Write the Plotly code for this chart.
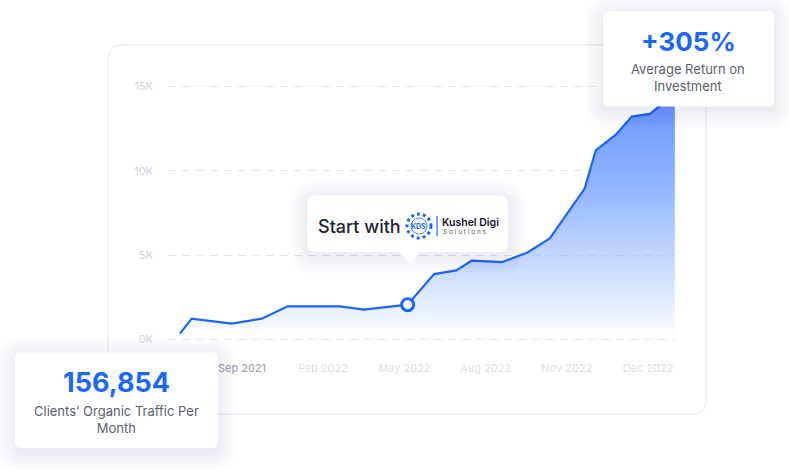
import plotly.graph_objects as go

W, H = 789, 470

# ---- data ----
x_pos = [-0.764, -0.62, -0.127, 0.243, 0.563, 1.207, 1.502, 2.04, 2.365, 2.64, 2.83,
         3.20, 3.51, 3.79, 4.22, 4.356, 4.614, 4.80, 5.025, 5.148, 5.33]
traffic = [350, 1240, 945, 1240, 1970, 1970, 1770, 2070, 3880, 4100, 4680,
           4590, 5150, 6000, 8950, 11220, 12200, 13220, 13380, 13870, 14600]
x_tick_vals = [0, 1, 2, 3, 4, 5]
x_tick_labels = ["Sep 2021", "Feb 2022", "May 2022", "Aug 2022", "Nov 2022", "Dec 2022"]
y_tick_vals = [0, 5000, 10000, 15000]
y_tick_labels = ["0K", "5K", "10K", "15K"]
start_idx = 7
roi_value = "+305%"
roi_label = "Average Return on<br>Investment"
traffic_value = "156,854"
traffic_label = "Clients’ Organic Traffic Per<br>Month"

BLUE = "#1a66ff"
FONT = "Inter"


def px(x):
    return x / W


def py(y):
    return 1 - y / H


def rr(x0, y0, x1, y1, r):
    pts = [
        ("M", [(x0 + r, y0)]), ("L", [(x1 - r, y0)]), ("Q", [(x1, y0), (x1, y0 + r)]),
        ("L", [(x1, y1 - r)]), ("Q", [(x1, y1), (x1 - r, y1)]), ("L", [(x0 + r, y1)]),
        ("Q", [(x0, y1), (x0, y1 - r)]), ("L", [(x0, y0 + r)]), ("Q", [(x0, y0), (x0 + r, y0)]),
    ]
    s = ""
    for cmd, pp in pts:
        s += cmd + " " + " ".join(f"{px(a):.5f},{py(b):.5f}" for a, b in pp) + " "
    return s + "Z"


shapes = []


def card(x0, y0, x1, y1, r, layer="above", shadow=True, line=None):
    if shadow:
        for i in range(1, 10):
            e = 2 * i
            shapes.append(dict(type="path", xref="paper", yref="paper", layer=layer,
                               path=rr(x0 - e, y0 - e + 4, x1 + e, y1 + e + 4, r + e),
                               fillcolor="rgba(60,60,90,0.008)", line=dict(width=0)))
    shapes.append(dict(type="path", xref="paper", yref="paper", layer=layer,
                       path=rr(x0, y0, x1, y1, r), fillcolor="white",
                       line=dict(width=1 if line else 0, color=line or "white")))


# main chart card
card(108, 44, 706, 415, 14, layer="below", shadow=False, line="#e6e6ef")

fig = go.Figure()
fig.add_trace(go.Scatter(
    x=x_pos, y=traffic, mode="lines", line=dict(color=BLUE, width=2.2),
    fill="tozeroy",
    fillgradient=dict(type="vertical",
                      colorscale=[[0.0, "rgba(255,255,255,0)"],
                                  [0.06, "rgba(170,200,255,0.15)"],
                                  [0.25, "rgba(150,185,255,0.45)"],
                                  [0.6, "rgba(120,165,255,0.80)"],
                                  [1.0, "rgba(100,150,255,1)"]]),
    hoverinfo="skip", showlegend=False))
fig.add_trace(go.Scatter(
    x=[x_pos[start_idx]], y=[traffic[start_idx]], mode="markers",
    marker=dict(size=12, color="white", line=dict(color=BLUE, width=3)),
    hoverinfo="skip", showlegend=False))

# tooltip "Start with"
card(307, 195, 508, 252, 8)
shapes.append(dict(type="path", xref="paper", yref="paper", layer="above",
                   path=f"M {px(399):.5f},{py(251):.5f} L {px(421):.5f},{py(251):.5f} "
                        f"L {px(410):.5f},{py(264):.5f} Z",
                   fillcolor="white", line=dict(width=0)))
# logo
shapes.append(dict(type="circle", xref="paper", yref="paper", layer="above",
                   x0=px(407), x1=px(431), y0=py(238), y1=py(214),
                   line=dict(color=BLUE, width=3, dash="dot")))
shapes.append(dict(type="circle", xref="paper", yref="paper", layer="above",
                   x0=px(411), x1=px(427), y0=py(234), y1=py(218),
                   line=dict(color=BLUE, width=0.8)))
shapes.append(dict(type="line", xref="paper", yref="paper", layer="above",
                   x0=px(437), x1=px(437), y0=py(216), y1=py(236),
                   line=dict(color=BLUE, width=1.2)))

# top-right card and bottom-left card
card(603, 10, 774, 106, 6)
card(15, 353, 218, 449, 6)

annotations = [
    dict(text=roi_value, x=px(688), y=py(41), font=dict(size=26, color=BLUE, family=FONT, weight=700)),
    dict(text=roi_label, x=px(688), y=py(77), font=dict(size=13, color="#5a5f6e", family=FONT)),
    dict(text=traffic_value, x=px(117), y=py(383), font=dict(size=27, color=BLUE, family=FONT, weight=700)),
    dict(text=traffic_label, x=px(117), y=py(420), font=dict(size=13, color="#5a5f6e", family=FONT)),
    dict(text="Start with", x=px(316), y=py(226), xanchor="left",
         font=dict(size=18, color="#222230", family=FONT, weight=500)),
    dict(text="KDS", x=px(419), y=py(226.5), font=dict(size=7, color=BLUE, family=FONT, weight=700)),
    dict(text="Kushel Digi", x=px(440), y=py(222), xanchor="left",
         font=dict(size=10.5, color="#15151f", family=FONT, weight=600)),
    dict(text="S o l u t i o n s", x=px(441), y=py(231.5), xanchor="left",
         font=dict(size=6.5, color="#555560", family=FONT)),
]
for a in annotations:
    a.update(xref="paper", yref="paper", showarrow=False)
    a.setdefault("xanchor", "center")
    a.setdefault("yanchor", "middle")

tick_text = [f'<span style="color:#9c9cab">{t}</span>' if i == 0 else t
             for i, t in enumerate(x_tick_labels)]

fig.update_layout(
    width=W, height=H, margin=dict(l=0, r=0, t=0, b=0),
    paper_bgcolor="white", plot_bgcolor="rgba(0,0,0,0)",
    shapes=shapes, annotations=annotations,
    font=dict(family=FONT),
    xaxis=dict(domain=[px(168), px(675)], range=[-0.911, 5.332], showgrid=False,
               zeroline=False, showline=False, tickmode="array",
               tickvals=x_tick_vals, ticktext=tick_text, ticks="",
               tickfont=dict(size=11, color="#dedee6", family=FONT), ticklabelstandoff=14),
    yaxis=dict(domain=[py(346), py(80)], range=[-354, 15354], showgrid=True,
               gridcolor="#e4e4ec", griddash="8px,6px", gridwidth=1, zeroline=False,
               showline=False, tickmode="array", tickvals=y_tick_vals,
               ticktext=y_tick_labels, ticks="",
               tickfont=dict(size=11, color="#d2d2dc", family=FONT), ticklabelstandoff=14),
)

fig.write_html("out.html")
